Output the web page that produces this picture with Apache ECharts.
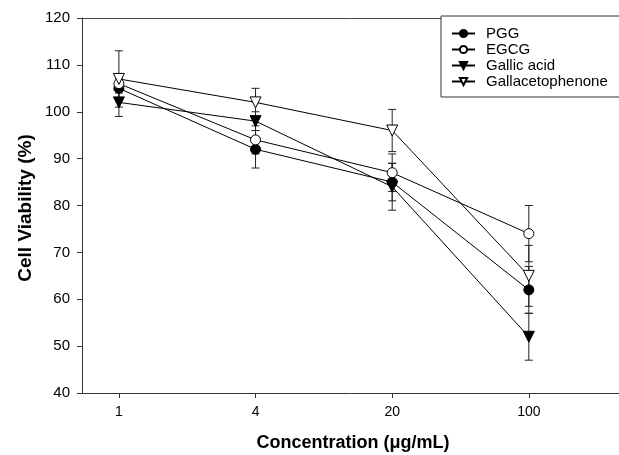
<!DOCTYPE html>
<html>
<head>
<meta charset="utf-8">
<script src="https://cdn.jsdelivr.net/npm/echarts@6/dist/echarts.min.js"></script>
<style>
  html, body { margin: 0; padding: 0; background: #fff; }
  #chart { width: 619px; height: 455px; }
</style>
</head>
<body>
<div id="chart"></div>
<script>
// data
const concentrations = ['1', '4', '20', '100'];
const pgg = [105, 92, 85, 62];
const egcg = [106, 94, 87, 74];
const gallic = [102, 98, 84, 52];
const galla = [107, 102, 96, 65];
const pggErr = [2, 4, 4, 5];
const egcgErr = [2, 3, 4, 6];
const gallicErr = [3, 2, 5, 5];
const gallaErr = [6, 3, 4.5, 6.5];
const yTicks = [40, 50, 60, 70, 80, 90, 100, 110, 120];

const idx = concentrations.map((c, i) => i);
const font = 'Liberation Sans, Arial, sans-serif';

function pts(vals) {
  return vals.map((v, i) => [i, v]);
}
function errData(vals, errs) {
  return vals.map((v, i) => [i, v - errs[i], v + errs[i]]);
}

function errorSeries(vals, errs) {
  return {
    type: 'custom',
    silent: true,
    z: 1,
    data: errData(vals, errs),
    encode: { x: 0, y: [1, 2] },
    renderItem: function (params, api) {
      const lo = api.coord([api.value(0), api.value(1)]);
      const hi = api.coord([api.value(0), api.value(2)]);
      const w = 4;
      const st = { stroke: '#222', lineWidth: 1 };
      return {
        type: 'group',
        children: [
          { type: 'line', shape: { x1: lo[0], y1: lo[1], x2: hi[0], y2: hi[1] }, style: st },
          { type: 'line', shape: { x1: lo[0] - w, y1: lo[1], x2: lo[0] + w, y2: lo[1] }, style: st },
          { type: 'line', shape: { x1: hi[0] - w, y1: hi[1], x2: hi[0] + w, y2: hi[1] }, style: st }
        ]
      };
    }
  };
}

function lineSeries(name, vals, symbol, filled, rotate) {
  return {
    name: name,
    type: 'line',
    data: pts(vals),
    symbol: symbol,
    symbolSize: symbol === 'circle' ? 10 : 11,
    symbolRotate: rotate,
    showAllSymbol: true,
    z: 3,
    lineStyle: { color: '#000', width: 1 },
    itemStyle: { color: filled ? '#000' : '#fff', borderColor: '#000', borderWidth: 1 },
    emphasis: { disabled: true }
  };
}

const chart = echarts.init(document.getElementById('chart'), null, { renderer: 'canvas' });

const option = {
  animation: false,
  backgroundColor: '#fff',
  grid: { left: 82, right: 0, top: 18, bottom: 62 },
  legend: {
    orient: 'vertical',
    left: 441,
    top: 16,
    padding: [10, 60, 8, 10],
    itemGap: 1,
    itemWidth: 23,
    itemHeight: 9,
    backgroundColor: '#fff',
    borderColor: '#333',
    borderWidth: 1,
    borderRadius: 0,
    textStyle: { fontFamily: font, fontSize: 15, color: '#000', padding: [0, 0, 0, 6] },
    data: ['PGG', 'EGCG', 'Gallic acid', 'Gallacetophenone']
  },
  xAxis: [{
    type: 'value',
    min: -0.27,
    max: 3.66,
    splitLine: { show: false },
    axisLine: { onZero: false, lineStyle: { color: '#333', width: 1 } },
    axisTick: { customValues: idx, length: 5, lineStyle: { color: '#333' } },
    axisLabel: {
      customValues: idx,
      margin: 12,
      fontFamily: font, fontSize: 14, color: '#000',
      formatter: function (v) { return concentrations[Math.round(v)]; }
    }
  }, {
    type: 'value',
    position: 'top',
    min: -0.27,
    max: 3.66,
    splitLine: { show: false },
    axisLine: { show: true, onZero: false, lineStyle: { color: '#444', width: 1 } },
    axisTick: { show: false },
    axisLabel: { show: false }
  }],
  yAxis: {
    type: 'value',
    min: 40,
    max: 120,
    interval: 10,
    splitLine: { show: false },
    axisLine: { show: true, onZero: false, lineStyle: { color: '#333', width: 1 } },
    axisTick: { show: true, length: 5, lineStyle: { color: '#333' } },
    axisLabel: {
      customValues: yTicks,
      margin: 12,
      fontFamily: font, fontSize: 15, color: '#000'
    }
  },
  graphic: [
    {
      type: 'text',
      x: 353, y: 443,
      style: { text: 'Concentration (\u03bcg/mL)', font: 'bold 18px ' + font, fill: '#000', align: 'center', verticalAlign: 'middle' }
    },
    {
      type: 'text',
      x: 26, y: 208,
      rotation: Math.PI / 2,
      style: { text: 'Cell Viability (%)', font: 'bold 19px ' + font, fill: '#000', align: 'center', verticalAlign: 'middle' }
    }
  ],
  series: [
    errorSeries(pgg, pggErr),
    errorSeries(egcg, egcgErr),
    errorSeries(gallic, gallicErr),
    errorSeries(galla, gallaErr),
    lineSeries('PGG', pgg, 'circle', true, 0),
    lineSeries('EGCG', egcg, 'circle', false, 0),
    lineSeries('Gallic acid', gallic, 'triangle', true, 180),
    lineSeries('Gallacetophenone', galla, 'triangle', false, 180)
  ]
};

chart.setOption(option);
</script>
</body>
</html>
